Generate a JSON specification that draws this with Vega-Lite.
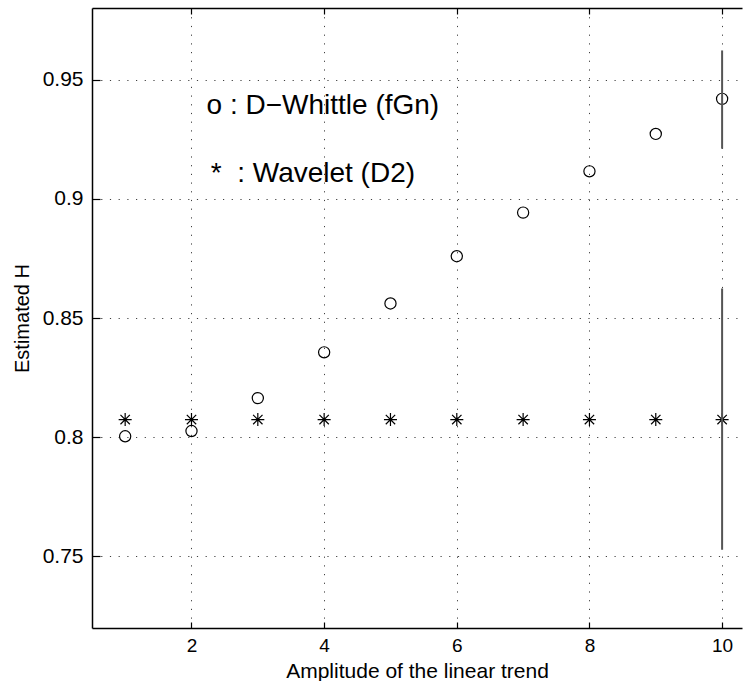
{
  "$schema": "https://vega.github.io/schema/vega-lite/v6.json",
  "width": 650,
  "height": 620,
  "padding": {"left": 92, "top": 8, "right": 1, "bottom": 53},
  "autosize": {"type": "none"},
  "background": "white",
  "config": {
    "view": {"stroke": null},
    "font": "Liberation Sans",
    "axis": {
      "labelFont": "Liberation Sans",
      "titleFont": "Liberation Sans",
      "labelColor": "black",
      "titleColor": "black",
      "titleFontWeight": "normal",
      "domainColor": "black",
      "domainWidth": 1.5,
      "tickColor": "black",
      "tickWidth": 1.2,
      "gridColor": "#000000",
      "gridOpacity": 0.75,
      "gridWidth": 1,
      "gridDash": [1.2, 7.5]
    }
  },
  "datasets": {
    "whittle": [
      {"amp": 1, "H": 0.8004},
      {"amp": 2, "H": 0.8026},
      {"amp": 3, "H": 0.8164},
      {"amp": 4, "H": 0.8356},
      {"amp": 5, "H": 0.8561},
      {"amp": 6, "H": 0.8759},
      {"amp": 7, "H": 0.8942},
      {"amp": 8, "H": 0.9115},
      {"amp": 9, "H": 0.9272},
      {"amp": 10, "H": 0.9419}
    ],
    "wavelet": [
      {"amp": 1, "H": 0.8074},
      {"amp": 2, "H": 0.8074},
      {"amp": 3, "H": 0.8074},
      {"amp": 4, "H": 0.8074},
      {"amp": 5, "H": 0.8074},
      {"amp": 6, "H": 0.8074},
      {"amp": 7, "H": 0.8074},
      {"amp": 8, "H": 0.8074},
      {"amp": 9, "H": 0.8074},
      {"amp": 10, "H": 0.8074}
    ],
    "bars": [
      {"amp": 10, "lo": 0.921, "hi": 0.9622},
      {"amp": 10, "lo": 0.7528, "hi": 0.8624}
    ],
    "labels": [
      {"amp": 2.227, "H": 0.9356, "text": "o : D−Whittle (fGn)"},
      {"amp": 2.29, "H": 0.907, "text": "*\u00a0\u00a0: Wavelet (D2)"}
    ]
  },
  "resolve": {"axis": {"x": "independent"}},
  "layer": [
    {
      "data": {"name": "whittle"},
      "mark": {"type": "point", "shape": "circle", "filled": false, "stroke": "black", "strokeWidth": 1.2, "size": 125, "opacity": 1},
      "encoding": {
        "x": {
          "field": "amp", "type": "quantitative",
          "scale": {"domain": [0.5, 10.3], "nice": false, "zero": false},
          "axis": {
            "orient": "bottom",
            "values": [2, 4, 6, 8, 10],
            "title": "Amplitude of the linear trend",
            "titleFontSize": 21,
            "titleY": 49,
            "titleBaseline": "alphabetic",
            "labelFontSize": 19,
            "tickSize": -6,
            "labelPadding": 14,
            "grid": true
          }
        },
        "y": {
          "field": "H", "type": "quantitative",
          "scale": {"domain": [0.72, 0.98], "nice": false, "zero": false},
          "axis": {
            "values": [0.75, 0.8, 0.85, 0.9, 0.95],
            "format": "~g",
            "title": "Estimated H",
            "titleFontSize": 20,
            "titleX": -70,
            "titleBaseline": "middle",
            "labelFontSize": 21,
            "tickSize": -8,
            "labelPadding": 17,
            "grid": true
          }
        }
      }
    },
    {
      "data": {"name": "wavelet"},
      "mark": {"type": "point", "shape": "M-1,0L1,0M0,-1L0,1M-0.72,-0.72L0.72,0.72M-0.72,0.72L0.72,-0.72", "filled": false, "stroke": "black", "strokeWidth": 1.2, "size": 170, "opacity": 1},
      "encoding": {
        "x": {
          "field": "amp", "type": "quantitative",
          "axis": {"orient": "top", "values": [2, 4, 6, 8, 10], "labels": false, "title": null, "tickSize": -6, "grid": false}
        },
        "y": {"field": "H", "type": "quantitative"}
      }
    },
    {
      "data": {"name": "bars"},
      "mark": {"type": "rule", "color": "#555555", "strokeWidth": 2},
      "encoding": {
        "x": {"field": "amp", "type": "quantitative", "axis": null},
        "y": {"field": "lo", "type": "quantitative"},
        "y2": {"field": "hi"}
      }
    },
    {
      "data": {"name": "labels"},
      "mark": {"type": "text", "align": "left", "baseline": "alphabetic", "fontSize": 28, "font": "Liberation Sans", "color": "black"},
      "encoding": {
        "x": {"field": "amp", "type": "quantitative", "axis": null},
        "y": {"field": "H", "type": "quantitative"},
        "text": {"field": "text"}
      }
    }
  ]
}
